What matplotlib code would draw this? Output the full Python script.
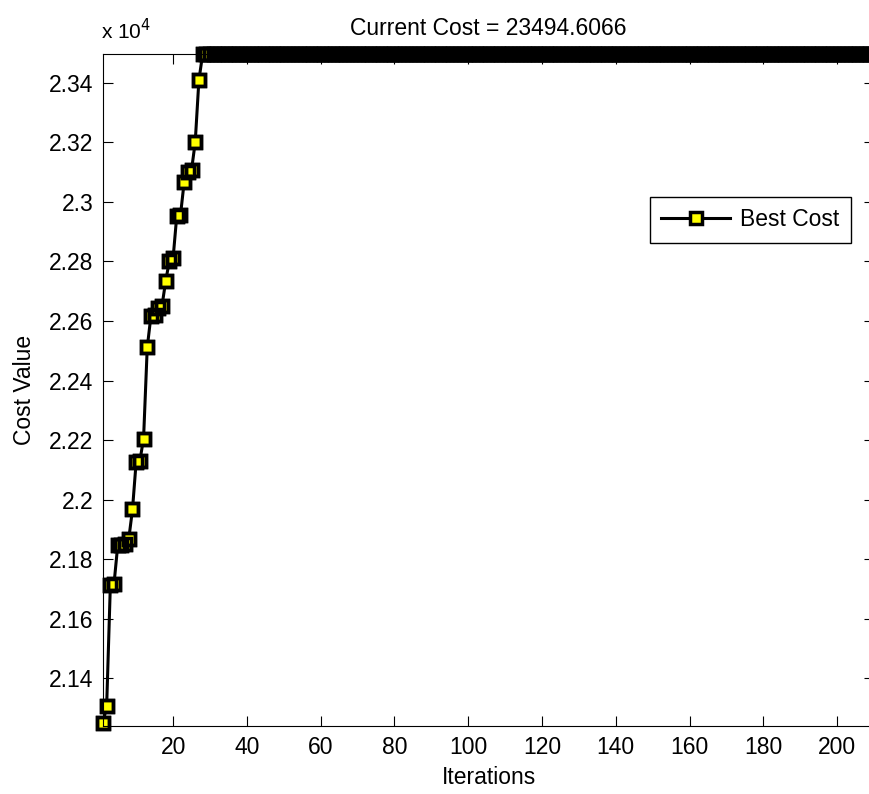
import matplotlib
matplotlib.use('Agg')
import matplotlib.pyplot as plt
from matplotlib.ticker import FuncFormatter

plt.rcParams['font.family'] = ['Liberation Sans', 'DejaVu Sans']

# best cost per iteration
rising_cost = [21249, 21308, 21713, 21718, 21847, 21848, 21850, 21869, 21967, 22128,
               22130, 22205, 22511, 22617, 22620, 22645, 22651, 22734, 22802, 22810,
               22953, 22954, 23066, 23100, 23106, 23200, 23408]
final_cost = 23494.6066
n_iter = 210
best_cost = rising_cost + [final_cost] * (n_iter - len(rising_cost))
iterations = list(range(1, n_iter + 1))

x_ticks = [20, 40, 60, 80, 100, 120, 140, 160, 180, 200]
y_ticks = [21400, 21600, 21800, 22000, 22200, 22400, 22600, 22800, 23000, 23200, 23400]

fig = plt.figure(figsize=(8.69, 7.94), dpi=100)
ax = fig.add_axes([0.1185, 0.0856, 0.8873, 0.8458])

mk = dict(marker='s', markersize=8, markerfacecolor='yellow', markeredgecolor='black',
          markeredgewidth=2.5, clip_on=False)
ax.plot(iterations, best_cost, color='black', linewidth=2.2, label='Best Cost', **mk)
# redraw the edges on top, as MATLAB paints all faces first and edges after
ax.plot(iterations, best_cost, linestyle='none', clip_on=False, marker='s', markersize=8,
        markerfacecolor='none', markeredgecolor='black', markeredgewidth=2.5)

ax.set_xlim(1, n_iter)
ax.set_ylim(21240, final_cost)
ax.set_xticks(x_ticks)
ax.set_yticks(y_ticks)
ax.yaxis.set_major_formatter(FuncFormatter(lambda v, p: '%g' % round(v / 1e4, 4)))
ax.tick_params(direction='in', length=7, width=0.8, top=True, right=True,
               labelsize=16.5, pad=7)
for s in ax.spines.values():
    s.set_linewidth(0.8)

ax.text(-0.003, 1.017, r'x 10$^{4}$', transform=ax.transAxes, ha='left', va='bottom', fontsize=15)
ax.set_title('Current Cost = %.4f' % final_cost, fontsize=16.5, pad=14)
ax.set_xlabel('Iterations', fontsize=16.5, labelpad=5)
ax.set_ylabel('Cost Value', fontsize=16.5, labelpad=9)

leg = ax.legend(loc='upper right', bbox_to_anchor=(0.970, 0.788), fontsize=16.5,
                fancybox=False, edgecolor='black', framealpha=1, handlelength=3,
                handletextpad=0.45, borderpad=0.5, borderaxespad=0)
leg.get_frame().set_linewidth(1.0)

fig.savefig('out.png', dpi=100)
